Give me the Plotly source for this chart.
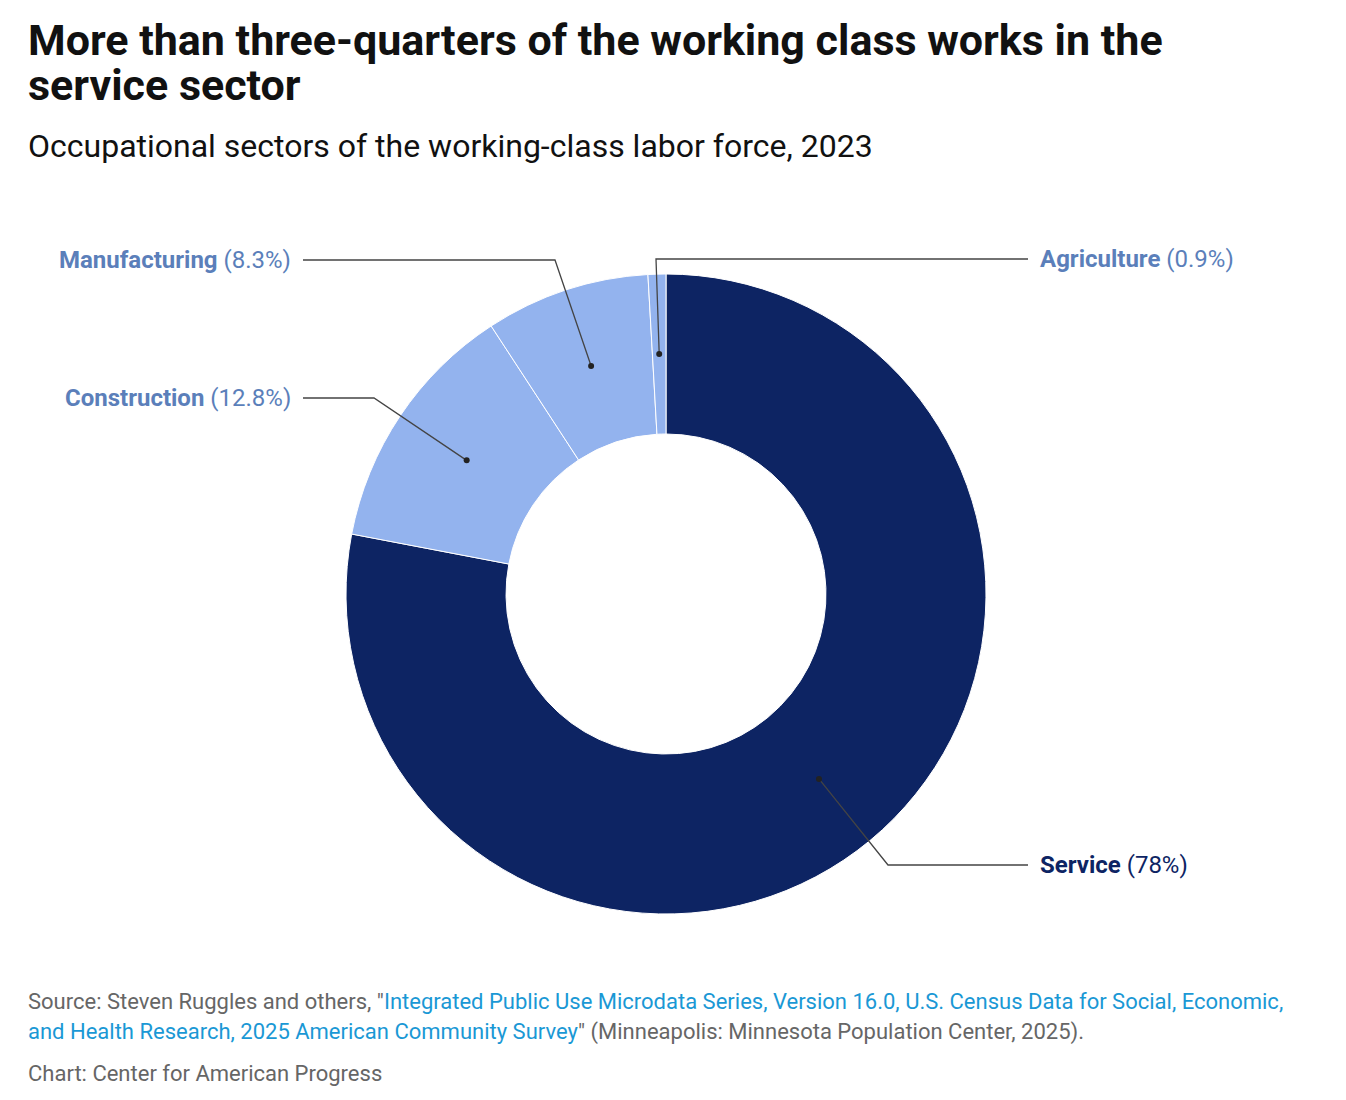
import math
import plotly.graph_objects as go

sectors = ["Service", "Construction", "Manufacturing", "Agriculture"]
shares = [78.0, 12.8, 8.3, 0.9]
share_text = ["78%", "12.8%", "8.3%", "0.9%"]
slice_colors = ["#0d2463", "#93b3ee", "#93b3ee", "#93b3ee"]
label_colors = ["#0d2463", "#5b7fba", "#5b7fba", "#5b7fba"]

W, H = 1346, 1100
OX, OY = 10, 8  # page offset of the plot div
CX, CY, R_OUT, R_IN = 668, 594, 320, 160


def px(x, y):
    return (x - OX) / W, 1 - (y - OY) / H


d0 = px(CX - R_OUT, CY + R_OUT)
d1 = px(CX + R_OUT, CY - R_OUT)
fig = go.Figure(go.Pie(
    labels=sectors,
    values=shares,
    hole=R_IN / R_OUT,
    sort=False,
    direction="clockwise",
    rotation=0,
    marker=dict(colors=slice_colors, line=dict(color="white", width=1)),
    textinfo="none",
    hoverinfo="label+percent",
    showlegend=False,
    domain=dict(x=[d0[0], d1[0]], y=[d0[1], d1[1]]),
))

label_pos = {
    "Service": (865, "right", 890),
    "Construction": (398, "left", 376),
    "Manufacturing": (260, "left", 557),
    "Agriculture": (259, "right", 658),
}

total = sum(shares)
cum = 0
shapes = []
annotations = []
for name, val, txt, col in zip(sectors, shares, share_text, label_colors):
    mid = (cum + val / 2) / total * 2 * math.pi
    cum += val
    r = (R_IN + R_OUT) / 2 if val > 5 else R_IN + 80
    dx = CX + r * math.sin(mid)
    dy = CY - r * math.cos(mid)
    ly, side, ex = label_pos[name]
    lx = 1030 if side == "right" else 305
    pts = [px(lx, ly), px(ex, ly), px(dx, dy)]
    path = "M {} {} L {} {} L {} {}".format(*[c for p in pts for c in p])
    shapes.append(dict(type="path", xref="paper", yref="paper", path=path,
                       line=dict(color="#444", width=1.3)))
    x0, y0 = px(dx, dy)
    shapes.append(dict(type="circle", xref="paper", yref="paper",
                       x0=x0 - 3 / W, x1=x0 + 3 / W, y0=y0 - 3 / H, y1=y0 + 3 / H,
                       fillcolor="#222", line=dict(width=0)))
    ax, ay = px(lx + (10 if side == "right" else -10), ly)
    annotations.append(dict(
        x=ax, y=ay, xref="paper", yref="paper", showarrow=False,
        xanchor="left" if side == "right" else "right", yanchor="middle",
        text=f"<b>{name}</b> ({txt})", font=dict(size=24, color=col)))

link = "#1a98d5"


def text_at(x, y, text, size, color, anchor="middle"):
    ax, ay = px(x, y)
    return dict(x=ax, y=ay, xref="paper", yref="paper", showarrow=False,
                xanchor="left", yanchor=anchor, align="left",
                text=text, font=dict(size=size, color=color))


annotations += [
    text_at(28, 40, "<b>More than three-quarters of the working class works in the</b>", 43, "#111"),
    text_at(28, 85, "<b>service sector</b>", 43, "#111"),
    text_at(28, 146, "Occupational sectors of the working-class labor force, 2023", 32, "#111"),
    text_at(28, 1001, "Source: Steven Ruggles and others, \"<span style='color:" + link + "'>Integrated Public Use Microdata Series, Version 16.0, U.S. Census Data for Social, Economic,</span>", 22, "#666"),
    text_at(28, 1032, "<span style='color:" + link + "'>and Health Research, 2025 American Community Survey</span>\" (Minneapolis: Minnesota Population Center, 2025).", 22, "#666"),
    text_at(28, 1073, "Chart: Center for American Progress", 22, "#666"),
]

fig.update_layout(
    width=W, height=H,
    margin=dict(l=0, r=0, t=0, b=0),
    paper_bgcolor="white",
    font=dict(family="Roboto, Arial, sans-serif"),
    shapes=shapes,
    annotations=annotations,
)

fig.write_html("out.html")
